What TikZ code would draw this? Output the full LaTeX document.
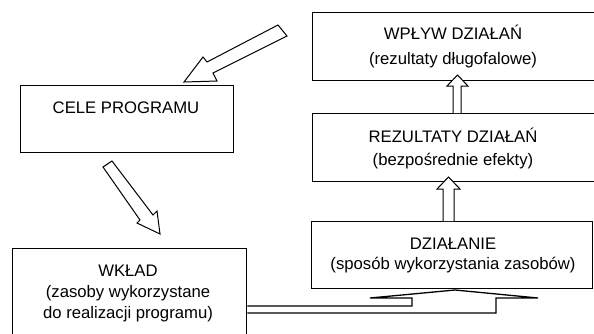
\documentclass[tikz,border=0pt]{standalone}
\usepackage{fontspec}
\setmainfont{Liberation Sans}
\begin{document}
\begin{tikzpicture}[x=1pt,y=-1pt,
  box/.style={draw, line width=1.3pt, inner sep=0pt, anchor=north west},
  lbl/.style={font=\fontsize{16.7}{20}\selectfont, anchor=base, inner sep=0pt},
  blockarrow/.style={draw, fill=white, line width=1pt, line join=miter},
]
\useasboundingbox (0,0) rectangle (594,333);
% boxes
\node[box, minimum width=285pt, minimum height=68pt] (wplyw) at (312,12) {};
\node[box, minimum width=285pt, minimum height=68pt] (rez) at (312,113) {};
\node[box, minimum width=281pt, minimum height=67pt] (dzial) at (311,221) {};
\node[box, minimum width=213pt, minimum height=67pt] (cele) at (20,85) {};
\node[box, minimum width=234pt, minimum height=100pt] (wklad) at (12,248) {};
% labels
\node[lbl] (t1a) at (453,39.5) {WPŁYW DZIAŁAŃ};
\node[lbl] (t1b) at (453,64) {(rezultaty długofalowe)};
\node[lbl] (t2a) at (453,142) {REZULTATY DZIAŁAŃ};
\node[lbl] (t2b) at (453,165) {(bezpośrednie efekty)};
\node[lbl] (t3a) at (453,249.5) {DZIAŁANIE};
\node[lbl] (t3b) at (453,269) {(sposób wykorzystania zasobów)};
\node[lbl] (t4) at (126,113) {CELE PROGRAMU};
\node[lbl] (t5a) at (128,276.5) {WKŁAD};
\node[lbl] (t5b) at (128,297.5) {(zasoby wykorzystane};
\node[lbl] (t5c) at (128,318.5) {do realizacji programu)};
% vertical block arrows
\path[blockarrow] (453,113) -- (453,86) -- (447,86) -- (457.5,75) -- (468,86) -- (461,86) -- (461,113);
\path[blockarrow] (443,221) -- (443,189) -- (437,189) -- (448.5,177) -- (460,189) -- (454,189) -- (454,221);
% diagonal block arrows
\path[blockarrow] (278,25) -- (207,62) -- (203,57) -- (184,82) -- (217,81) -- (213,73) -- (287,36) -- cycle;
\path[blockarrow] (103,167) -- (140,220) -- (137,223) -- (160,234) -- (157,211) -- (153,215) -- (112,161) -- cycle;
% bottom connector
\draw[line width=1.3pt, line join=miter] (wklad.east |- 0,306) -- (412,306) -- (412,298) -- (370,298) -- (455,290) -- (538,298) -- (496,298) -- (496,313) -- (wklad.east |- 0,313);
\end{tikzpicture}
\end{document}
